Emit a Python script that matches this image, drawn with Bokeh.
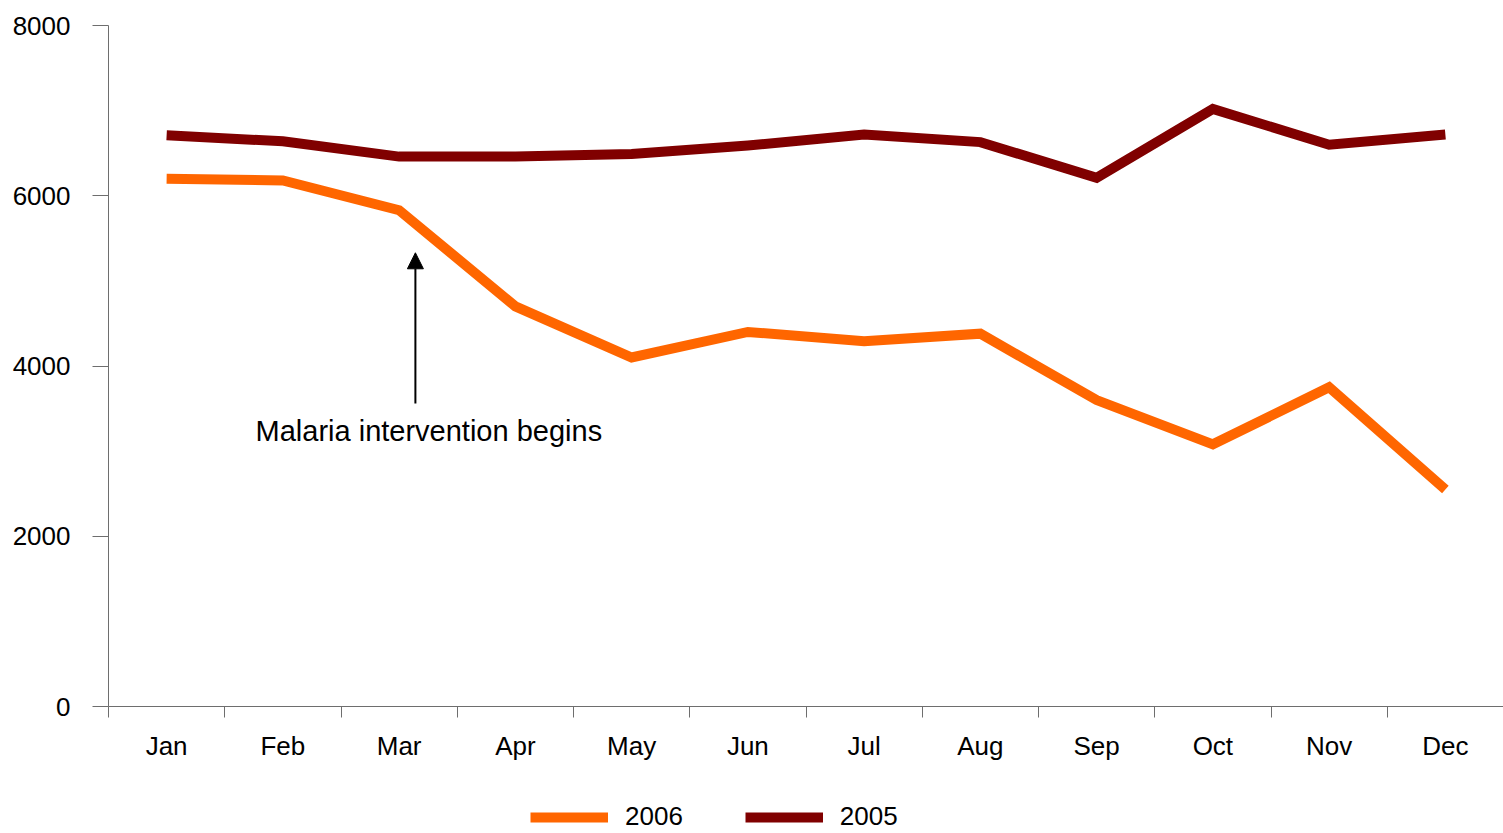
from bokeh.plotting import figure
from bokeh.layouts import column
from bokeh.models import (Range1d, FixedTicker, Legend, LegendItem, Arrow, NormalHead, Label)
from bokeh.embed import file_html
from bokeh.resources import INLINE
import numpy as np

MONTHS = ["Jan", "Feb", "Mar", "Apr", "May", "Jun", "Jul", "Aug", "Sep", "Oct", "Nov", "Dec"]
CASES_2006 = [6200, 6180, 5830, 4700, 4100, 4400, 4290, 4380, 3600, 3080, 3750, 2550]
CASES_2005 = [6710, 6640, 6460, 6460, 6490, 6590, 6720, 6630, 6210, 7020, 6600, 6720]
SERIES_LABELS = ["2006", "2005"]
Y_TICKS = [0, 2000, 4000, 6000, 8000]

# annotation (data coordinates)
ANNOT_TEXT = "Malaria intervention begins"
ANNOT_X = 2.64
ANNOT_Y0 = 3560
ANNOT_Y1 = 5330
ANNOT_TEXT_X = 1.265
ANNOT_TEXT_Y = 3240

FONT = "Liberation Sans"
ORANGE = "#FF6600"
MAROON = "#800000"
AXIS_GREY = "#6e6e6e"

x = np.arange(len(MONTHS)) + 0.5

p = figure(width=1503, height=772, output_backend="svg", toolbar_location=None,
           x_range=Range1d(0, len(MONTHS)), y_range=Range1d(0, 8000),
           min_border_left=108, min_border_right=0, min_border_top=25, min_border_bottom=66)
p.outline_line_color = None
p.xgrid.visible = False
p.ygrid.visible = False
p.background_fill_color = "white"
p.border_fill_color = "white"

p.line(x, CASES_2006, line_color=ORANGE, line_width=10, line_join="miter")
p.line(x, CASES_2005, line_color=MAROON, line_width=10, line_join="miter")

# y axis
ya = p.yaxis[0]
ya.ticker = FixedTicker(ticks=Y_TICKS)
ya.axis_line_color = AXIS_GREY
ya.major_tick_line_color = AXIS_GREY
ya.major_tick_out = 16
ya.major_tick_in = 0
ya.minor_tick_line_color = None
ya.major_label_text_font = FONT
ya.major_label_text_font_size = "26px"
ya.major_label_text_color = "black"
ya.major_label_standoff = 22
ya.formatter.use_scientific = False

# x axis
xa = p.xaxis[0]
xa.ticker = FixedTicker(ticks=list(x), minor_ticks=list(range(len(MONTHS) + 1)))
xa.major_label_overrides = {float(v): m for v, m in zip(x, MONTHS)}
xa.axis_line_color = AXIS_GREY
xa.major_tick_line_color = None
xa.major_tick_out = 0
xa.major_tick_in = 0
xa.minor_tick_line_color = AXIS_GREY
xa.minor_tick_out = 11
xa.minor_tick_in = 0
xa.major_label_text_font = FONT
xa.major_label_text_font_size = "26px"
xa.major_label_text_color = "black"
xa.major_label_standoff = 13

# annotation
p.add_layout(Arrow(end=NormalHead(size=16, fill_color="black", line_color="black"),
                   x_start=ANNOT_X, y_start=ANNOT_Y0, x_end=ANNOT_X, y_end=ANNOT_Y1,
                   line_color="black", line_width=2))
p.add_layout(Label(x=ANNOT_TEXT_X, y=ANNOT_TEXT_Y, text=ANNOT_TEXT, text_font=FONT,
                   text_font_size="29px", text_color="black", text_baseline="alphabetic"))

# legend strip below the chart (series drawn out of view, only the legend shows)
lg = figure(width=1503, height=61, output_backend="svg", toolbar_location=None,
            x_range=Range1d(0, 1), y_range=Range1d(0, 1),
            min_border_left=0, min_border_right=0, min_border_top=0, min_border_bottom=0)
lg.outline_line_color = None
lg.axis.visible = False
lg.grid.visible = False
l06 = lg.line(x, CASES_2006, line_color=ORANGE, line_width=10)
l05 = lg.line(x, CASES_2005, line_color=MAROON, line_width=10)
legend = Legend(items=[LegendItem(label=SERIES_LABELS[0], renderers=[l06]),
                       LegendItem(label=SERIES_LABELS[1], renderers=[l05])],
                orientation="horizontal", location=(422, 1),
                glyph_width=78, glyph_height=30, label_standoff=17, spacing=62,
                label_text_font=FONT, label_text_font_size="26px", label_text_color="black",
                border_line_color=None, background_fill_alpha=0, padding=0, margin=0)
lg.add_layout(legend, "center")

layout = column(p, lg, spacing=0)
open("out.html", "w").write(file_html(layout, INLINE))
